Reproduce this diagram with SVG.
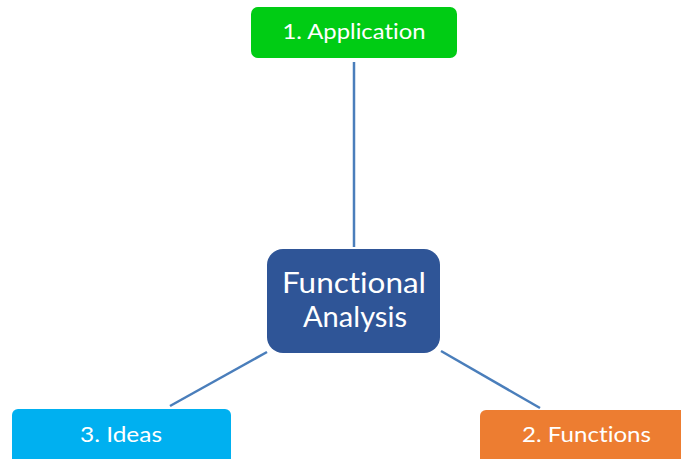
<svg xmlns="http://www.w3.org/2000/svg" width="681" height="459" viewBox="0 0 681 459">
<style>
text{font-family:Lato,"Open Sans",sans-serif;fill:#fff;text-anchor:middle;font-variant-ligatures:none;font-feature-settings:"liga" 0,"dlig" 0}
.s{font-size:22px}
.b{font-size:28px}
.c{stroke:#4A7EBB;stroke-width:2.5;fill:none}
</style>
<rect width="681" height="459" fill="#fff"/>
<g id="connectors">
<line class="c" x1="354" y1="62" x2="354" y2="247"/>
<line class="c" x1="267" y1="352" x2="170" y2="406"/>
<line class="c" x1="441" y1="351" x2="540" y2="408"/>
</g>
<g id="application">
<rect x="251" y="7" width="206" height="51" rx="7" fill="#00CC14"/>
<text class="s" x="354" y="39" textLength="143" lengthAdjust="spacingAndGlyphs">1. Application</text>
</g>
<g id="center">
<rect x="267" y="249" width="173" height="104" rx="16" fill="#2F5597"/>
<text class="b" x="354" y="293" textLength="144" lengthAdjust="spacingAndGlyphs">Functional</text>
<text class="b" x="355" y="327" textLength="104" lengthAdjust="spacingAndGlyphs">Analysis</text>
</g>
<g id="ideas">
<rect x="12" y="409" width="219" height="60" rx="6" fill="#00B0F0"/>
<text class="s" x="121" y="442" textLength="82" lengthAdjust="spacingAndGlyphs">3. Ideas</text>
</g>
<g id="functions">
<rect x="480" y="410" width="220" height="60" rx="6" fill="#ED7D31"/>
<text class="s" x="586.5" y="442" textLength="129" lengthAdjust="spacingAndGlyphs">2. Functions</text>
</g>
</svg>
